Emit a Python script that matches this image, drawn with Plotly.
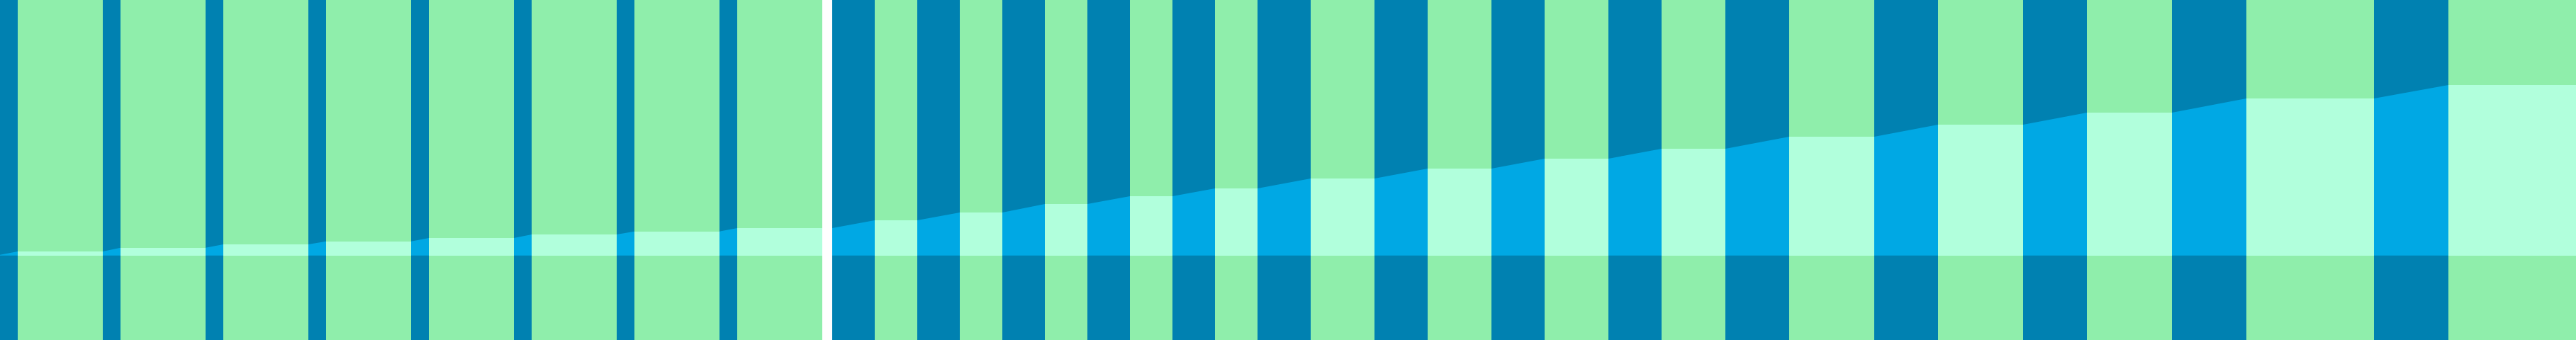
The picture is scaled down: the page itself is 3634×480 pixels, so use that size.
import plotly.graph_objects as go

# ---- data ----
stage_values = [1.0, 5.7, 11.0, 15.7, 20.0, 24.7, 29.7, 34.0, 38.7,
                49.7, 60.7, 72.7, 83.7, 94.7,
                108.7, 122.7, 136.7, 150.7,
                167.7, 184.7, 201.7,
                221.7, 240.7]

# ---- layout / positions (kept apart from the values) ----
stage_x = [-60, 85, 230, 375, 520, 665, 810, 955, 1100,
           1264, 1384, 1504, 1624, 1744,
           1894, 2059, 2224, 2389,
           2584, 2794, 3004,
           3259, 3544]
bar_widths = [120] * 9 + [60] * 5 + [90] * 4 + [120] * 3 + [180] * 2
divider_x = 1167
divider_w = 14

X_RANGE = [0, 3634]
Y_RANGE = [-119.3, 360.7]

GREEN = "#8FEEAB"
MINT = "#B1FFDC"
DARK = "#0081B1"
BRIGHT = "#00A8E4"

fig = go.Figure()

# full-height column behind every stage
fig.add_trace(go.Bar(
    x=stage_x, y=[Y_RANGE[1] - Y_RANGE[0]] * len(stage_x), base=Y_RANGE[0],
    width=bar_widths, marker=dict(color=GREEN, line=dict(width=0)),
    hoverinfo="skip", showlegend=False))

# value bars
fig.add_trace(go.Bar(
    x=stage_x, y=stage_values, base=0,
    width=bar_widths, marker=dict(color=MINT, line=dict(width=0)),
    showlegend=False))

# connectors between consecutive bars
cx, cy = [], []
for i in range(len(stage_x) - 1):
    x0 = stage_x[i] + bar_widths[i] / 2
    x1 = stage_x[i + 1] - bar_widths[i + 1] / 2
    if x0 <= divider_x <= x1 + divider_w:
        x0 = max(x0, divider_x + divider_w / 2)
    cx += [x0, x0, x1, x1, x0, None]
    cy += [0, stage_values[i], stage_values[i + 1], 0, 0, None]

fig.add_trace(go.Scatter(
    x=cx, y=cy, mode="lines", fill="toself", fillcolor=BRIGHT,
    line=dict(width=0, color=BRIGHT), hoverinfo="skip", showlegend=False))

fig.add_shape(type="rect", xref="x", yref="paper",
              x0=divider_x - divider_w / 2, x1=divider_x + divider_w / 2,
              y0=0, y1=1, fillcolor="white", line=dict(width=0), layer="above")

fig.update_layout(
    width=3634, height=480,
    margin=dict(l=0, r=0, t=0, b=0),
    paper_bgcolor="white", plot_bgcolor=DARK,
    barmode="overlay", bargap=0,
    showlegend=False,
    xaxis=dict(range=X_RANGE, visible=False, fixedrange=True),
    yaxis=dict(range=Y_RANGE, visible=False, fixedrange=True),
)

fig.write_html(
    "out.html",
    config={"displayModeBar": False},
    post_script="document.body.style.margin='0';document.body.style.overflow='hidden';",
)
